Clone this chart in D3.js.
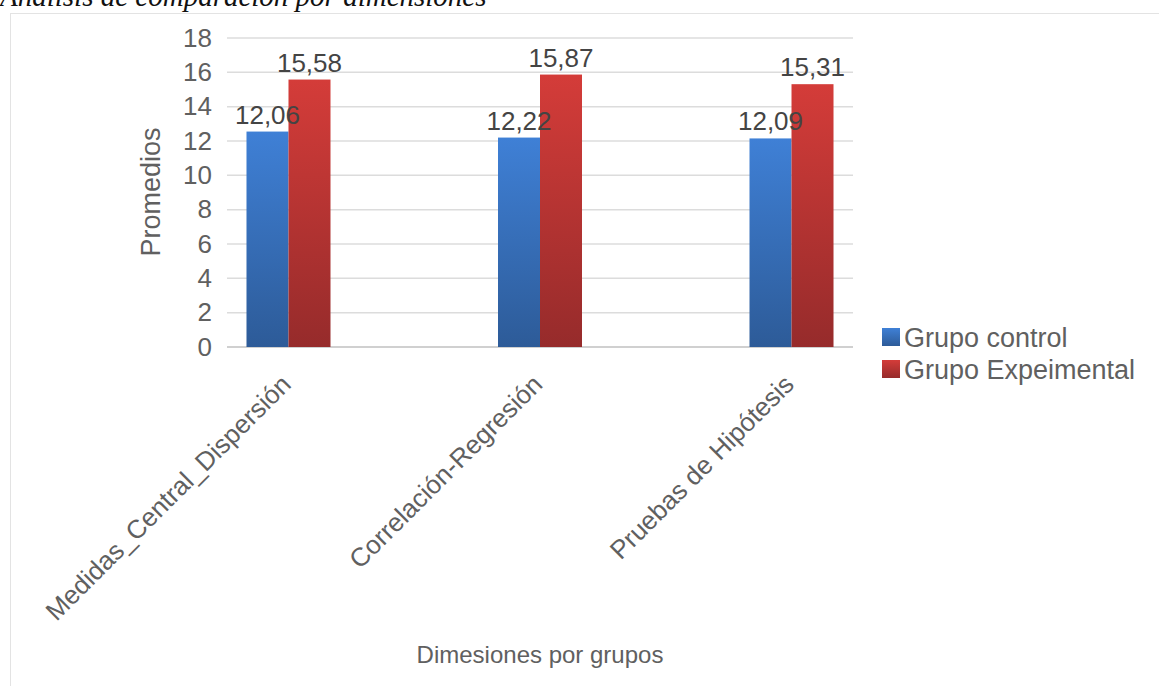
<!DOCTYPE html>
<html>
<head>
<meta charset="utf-8">
<script src="https://cdn.jsdelivr.net/npm/d3@7"></script>
<style>
  body { margin: 0; background: #fff; }
  svg { display: block; }
</style>
</head>
<body>
<div id="chart"></div>
<script>
// données
const categories = ["Medidas_Central_Dispersión", "Correlación-Regresión", "Pruebas de Hipótesis"];
const seriesNames = ["Grupo control", "Grupo Expeimental"];
const controlValues = [12.55, 12.2, 12.15];        // hauteur des barres
const experimentalValues = [15.58, 15.87, 15.31];
const controlLabels = ["12,06", "12,22", "12,09"];  // étiquettes affichées
const experimentalLabels = ["15,58", "15,87", "15,31"];
const yTicks = [0, 2, 4, 6, 8, 10, 12, 14, 16, 18];

const width = 1159, height = 686;
const plot = { left: 227, right: 853, top: 38, bottom: 347 };

const svg = d3.select("#chart").append("svg")
  .attr("width", width)
  .attr("height", height);

// dégradés des barres
const defs = svg.append("defs");
const grads = [
  { id: "gBlue", top: "#3f80d6", bottom: "#2d5b98" },
  { id: "gRed", top: "#d43c39", bottom: "#962b2b" }
];
grads.forEach(g => {
  const lg = defs.append("linearGradient").attr("id", g.id)
    .attr("x1", 0).attr("y1", 0).attr("x2", 0).attr("y2", 1);
  lg.append("stop").attr("offset", "0%").attr("stop-color", g.top);
  lg.append("stop").attr("offset", "100%").attr("stop-color", g.bottom);
});

// cadre
svg.append("rect")
  .attr("x", 10.5).attr("y", 13.5)
  .attr("width", 1160).attr("height", 690)
  .attr("fill", "none")
  .attr("stroke", "#e3e3e3");

// titre (coupé en haut)
svg.append("text")
  .attr("x", 0).attr("y", 6)
  .attr("font-family", "'Liberation Serif', 'DejaVu Serif', serif")
  .attr("font-style", "italic")
  .attr("font-size", 29)
  .attr("fill", "#111")
  .text("Análisis de comparación por dimensiones");

const y = d3.scaleLinear().domain([0, 18]).range([plot.bottom, plot.top]);
const x0 = d3.scaleBand().domain(categories)
  .range([plot.left, plot.right])
  .paddingInner(0.666).paddingOuter(0.0775);
const x1 = d3.scaleBand().domain(seriesNames).range([0, x0.bandwidth()]);

// grille
svg.append("g")
  .selectAll("line")
  .data(yTicks)
  .enter().append("line")
  .attr("x1", plot.left).attr("x2", plot.right)
  .attr("y1", d => y(d)).attr("y2", d => y(d))
  .attr("stroke", d => d === 0 ? "#d0d0d0" : "#dcdcdc")
  .attr("stroke-width", d => d === 0 ? 2 : 1.5);

// axe Y
const yAxis = svg.append("g")
  .attr("transform", `translate(${plot.left - 15},0)`)
  .call(d3.axisLeft(y).tickValues(yTicks).tickSize(0).tickPadding(0));
yAxis.select(".domain").remove();
yAxis.selectAll("text")
  .attr("font-family", "'Liberation Sans', Arial, sans-serif")
  .attr("font-size", 26)
  .attr("fill", "#606060");

svg.append("text")
  .attr("transform", `translate(160,192) rotate(-90)`)
  .attr("text-anchor", "middle")
  .attr("font-family", "'Liberation Sans', Arial, sans-serif")
  .attr("font-size", 27)
  .attr("fill", "#606060")
  .text("Promedios");

// barres
const rows = categories.map((c, i) => ({
  cat: c,
  bars: [
    { s: seriesNames[0], v: controlValues[i], label: controlLabels[i], fill: "url(#gBlue)" },
    { s: seriesNames[1], v: experimentalValues[i], label: experimentalLabels[i], fill: "url(#gRed)" }
  ]
}));

const groups = svg.append("g")
  .selectAll("g")
  .data(rows)
  .enter().append("g")
  .attr("transform", d => `translate(${x0(d.cat)},0)`);

groups.selectAll("rect")
  .data(d => d.bars)
  .enter().append("rect")
  .attr("x", d => x1(d.s))
  .attr("y", d => y(d.v))
  .attr("width", x1.bandwidth())
  .attr("height", d => y(0) - y(d.v))
  .attr("fill", d => d.fill);

groups.selectAll("text")
  .data(d => d.bars)
  .enter().append("text")
  .attr("x", d => x1(d.s) + x1.bandwidth() / 2)
  .attr("y", d => y(d.v) - 8)
  .attr("text-anchor", "middle")
  .attr("font-family", "'Liberation Sans', Arial, sans-serif")
  .attr("font-size", 26)
  .attr("fill", "#444")
  .text(d => d.label);

// étiquettes X inclinées
svg.append("g")
  .selectAll("text")
  .data(categories)
  .enter().append("text")
  .attr("transform", d => `translate(${x0(d) + x0.bandwidth() / 2 + 4},386) rotate(-45)`)
  .attr("text-anchor", "end")
  .attr("font-family", "'Liberation Sans', Arial, sans-serif")
  .attr("font-size", 26)
  .attr("fill", "#606060")
  .text(d => d);

svg.append("text")
  .attr("x", (plot.left + plot.right) / 2)
  .attr("y", 663)
  .attr("text-anchor", "middle")
  .attr("font-family", "'Liberation Sans', Arial, sans-serif")
  .attr("font-size", 24)
  .attr("fill", "#606060")
  .text("Dimesiones por grupos");

// légende
const legend = svg.append("g")
  .selectAll("g")
  .data(seriesNames)
  .enter().append("g")
  .attr("transform", (d, i) => `translate(882,${328 + i * 32})`);
legend.append("rect")
  .attr("width", 18).attr("height", 18)
  .attr("fill", (d, i) => i === 0 ? "url(#gBlue)" : "url(#gRed)");
legend.append("text")
  .attr("x", 22).attr("y", 19)
  .attr("font-family", "'Liberation Sans', Arial, sans-serif")
  .attr("font-size", 27)
  .attr("fill", "#606060")
  .text(d => d);
</script>
</body>
</html>
